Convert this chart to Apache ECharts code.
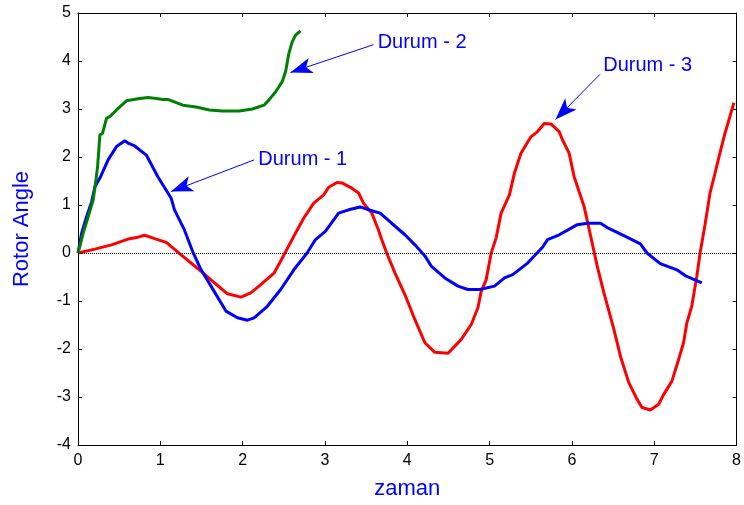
<!DOCTYPE html>
<html>
<head>
<meta charset="utf-8">
<script src="https://cdn.jsdelivr.net/npm/echarts@6/dist/echarts.min.js"></script>
<style>
  html, body { margin: 0; padding: 0; background: #fff; }
  #chart { width: 744px; height: 505px; }
</style>
</head>
<body>
<div id="chart"></div>
<script>
// Rotor angle responses for the three cases, [time, angle]
const durum1 = [
  [0, 0], [0.045, 0.42], [0.105, 0.76], [0.166, 1.07], [0.205, 1.38], [0.266, 1.56],
  [0.366, 1.94], [0.468, 2.22], [0.568, 2.34], [0.608, 2.29], [0.689, 2.23], [0.83, 2.04],
  [0.97, 1.59], [1.132, 1.14], [1.172, 0.9], [1.293, 0.48], [1.393, 0.03], [1.495, -0.35],
  [1.616, -0.69], [1.797, -1.21], [1.937, -1.35], [2.058, -1.4], [2.139, -1.35], [2.3, -1.11],
  [2.462, -0.76], [2.622, -0.35], [2.783, 0.0], [2.885, 0.28], [3.005, 0.45], [3.166, 0.83],
  [3.287, 0.9], [3.428, 0.96], [3.549, 0.89], [3.67, 0.83], [3.81, 0.62], [3.972, 0.38],
  [4.093, 0.17], [4.214, -0.06], [4.294, -0.28], [4.456, -0.52], [4.616, -0.69], [4.737, -0.76],
  [4.879, -0.76], [5.06, -0.69], [5.181, -0.52], [5.281, -0.45], [5.462, -0.21], [5.643, 0.12],
  [5.704, 0.28], [5.825, 0.36], [6.066, 0.59], [6.187, 0.62], [6.348, 0.62], [6.429, 0.53],
  [6.631, 0.36], [6.832, 0.19], [6.912, 0.0], [7.073, -0.22], [7.275, -0.35], [7.375, -0.47],
  [7.577, -0.62]
];

const durum2 = [
  [0, 0], [0.012, 0.07], [0.064, 0.42], [0.124, 0.76], [0.185, 1.11], [0.218, 1.52],
  [0.238, 1.8], [0.266, 2.46], [0.298, 2.49], [0.347, 2.81], [0.387, 2.84], [0.468, 2.98],
  [0.589, 3.17], [0.749, 3.22], [0.85, 3.24], [0.951, 3.22], [1.031, 3.2], [1.091, 3.2],
  [1.273, 3.08], [1.434, 3.04], [1.595, 2.98], [1.756, 2.96], [1.958, 2.96], [2.118, 3.0],
  [2.26, 3.08], [2.32, 3.19], [2.401, 3.36], [2.481, 3.57], [2.522, 3.78], [2.562, 4.16],
  [2.602, 4.4], [2.643, 4.54], [2.703, 4.63]
];

const durum3 = [
  [0, 0], [0.205, 0.08], [0.407, 0.17], [0.608, 0.29], [0.729, 0.33], [0.81, 0.37],
  [0.931, 0.3], [1.072, 0.22], [1.253, -0.04], [1.495, -0.38], [1.656, -0.62], [1.816, -0.85],
  [1.978, -0.92], [2.099, -0.83], [2.22, -0.66], [2.381, -0.42], [2.502, -0.04], [2.622, 0.35],
  [2.743, 0.73], [2.864, 1.04], [2.985, 1.21], [3.045, 1.37], [3.146, 1.47], [3.206, 1.46],
  [3.327, 1.35], [3.408, 1.25], [3.468, 1.04], [3.569, 0.83], [3.65, 0.48], [3.689, 0.28],
  [3.75, 0.0], [3.851, -0.42], [3.972, -0.87], [4.093, -1.39], [4.214, -1.87], [4.335, -2.07],
  [4.495, -2.09], [4.656, -1.8], [4.777, -1.49], [4.858, -1.14], [4.898, -0.8], [4.958, -0.56],
  [5.019, 0.0], [5.079, 0.31], [5.14, 0.83], [5.241, 1.21], [5.301, 1.66], [5.381, 2.08],
  [5.502, 2.42], [5.583, 2.53], [5.664, 2.7], [5.744, 2.69], [5.845, 2.53], [5.885, 2.36],
  [5.966, 2.08], [6.027, 1.59], [6.148, 0.97], [6.228, 0.35], [6.308, -0.28], [6.389, -0.83],
  [6.51, -1.59], [6.591, -2.16], [6.691, -2.7], [6.792, -3.05], [6.852, -3.22], [6.953, -3.27],
  [7.054, -3.15], [7.114, -2.95], [7.215, -2.67], [7.296, -2.22], [7.356, -1.87], [7.396, -1.46],
  [7.456, -1.11], [7.517, -0.49], [7.557, 0.0], [7.617, 0.59], [7.678, 1.25], [7.738, 1.66],
  [7.798, 2.08], [7.859, 2.49], [7.919, 2.84], [7.968, 3.13]
];

// Axis ranges and tick step
const xRange = [0, 8];
const yRange = [-4, 5];
const tickStep = 1;

// Callout labels: text anchor, arrow tail and arrow tip (data coordinates)
const calloutText = ['Durum - 1', 'Durum - 2', 'Durum - 3'];
const calloutTextAt = [[2.19, 1.94], [3.64, 4.38], [6.38, 3.90]];
const calloutTail = [[2.14, 1.94], [3.59, 4.34], [6.34, 3.72]];
const calloutTip = [[1.13, 1.28], [2.58, 3.76], [5.80, 2.78]];

const FONT = '"Liberation Sans", Arial, Helvetica, sans-serif';
const BLUE = '#0000ff';

const chart = echarts.init(document.getElementById('chart'), null, { renderer: 'canvas' });

function boxAxis(range, position, showLabels, extra) {
  return Object.assign({
    type: 'value',
    min: range[0],
    max: range[1],
    interval: tickStep,
    position: position,
    axisLine: { show: true, onZero: false, lineStyle: { color: '#000', width: 1 } },
    axisTick: { show: true, inside: true, length: 4, lineStyle: { color: '#000', width: 1 } },
    axisLabel: { show: showLabels, color: '#000', fontFamily: FONT, fontSize: 16 },
    splitLine: { show: false }
  }, extra || {});
}

const option = {
  animation: false,
  backgroundColor: '#fff',
  grid: { left: 78, right: 4, top: 13, bottom: 59, containLabel: false },
  xAxis: [
    boxAxis(xRange, 'bottom', true, {
      name: 'zaman', nameLocation: 'middle', nameGap: 33,
      nameTextStyle: { color: BLUE, fontFamily: FONT, fontSize: 22 },
      axisLabel: { show: true, color: '#000', fontFamily: FONT, fontSize: 16, margin: 8 }
    }),
    boxAxis(xRange, 'top', false)
  ],
  yAxis: [
    boxAxis(yRange, 'left', true, {
      name: 'Rotor Angle', nameLocation: 'middle', nameGap: 45,
      nameTextStyle: { color: BLUE, fontFamily: FONT, fontSize: 22 },
      axisLabel: { show: true, color: '#000', fontFamily: FONT, fontSize: 16, margin: 7 }
    }),
    boxAxis(yRange, 'right', false)
  ],
  series: [
    {
      name: 'zero',
      type: 'line',
      data: [],
      silent: true,
      markLine: {
        silent: true,
        symbol: ['none', 'none'],
        label: { show: false },
        lineStyle: { type: 'dotted', color: '#000', width: 1 },
        data: [{ yAxis: 0 }]
      }
    },
    {
      name: 'Durum - 3',
      type: 'line',
      data: durum3,
      showSymbol: false,
      lineStyle: { color: '#ff0000', width: 3 },
      itemStyle: { color: '#ff0000' }
    },
    {
      name: 'Durum - 1',
      type: 'line',
      data: durum1,
      showSymbol: false,
      lineStyle: { color: '#0000ff', width: 3 },
      itemStyle: { color: '#0000ff' }
    },
    {
      name: 'Durum - 2',
      type: 'line',
      data: durum2,
      showSymbol: false,
      lineStyle: { color: '#008000', width: 3 },
      itemStyle: { color: '#008000' }
    },
    {
      name: 'callouts',
      type: 'line',
      data: [],
      silent: true,
      z: 5,
      markLine: {
        silent: true,
        symbol: ['none', 'arrow'],
        symbolSize: [12, 22],
        label: { show: false },
        lineStyle: { type: 'solid', color: BLUE, width: 1 },
        data: calloutText.map((t, i) => [
          { coord: calloutTail[i] },
          { coord: calloutTip[i] }
        ])
      },
      markPoint: {
        silent: true,
        symbol: 'circle',
        symbolSize: 0,
        itemStyle: { color: 'rgba(0,0,0,0)' },
        label: {
          show: true,
          position: 'right',
          distance: 0,
          color: BLUE,
          fontFamily: FONT,
          fontSize: 20
        },
        data: calloutText.map((t, i) => ({
          coord: calloutTextAt[i],
          value: t,
          label: { formatter: t }
        }))
      }
    }
  ]
};

chart.setOption(option);
</script>
</body>
</html>
